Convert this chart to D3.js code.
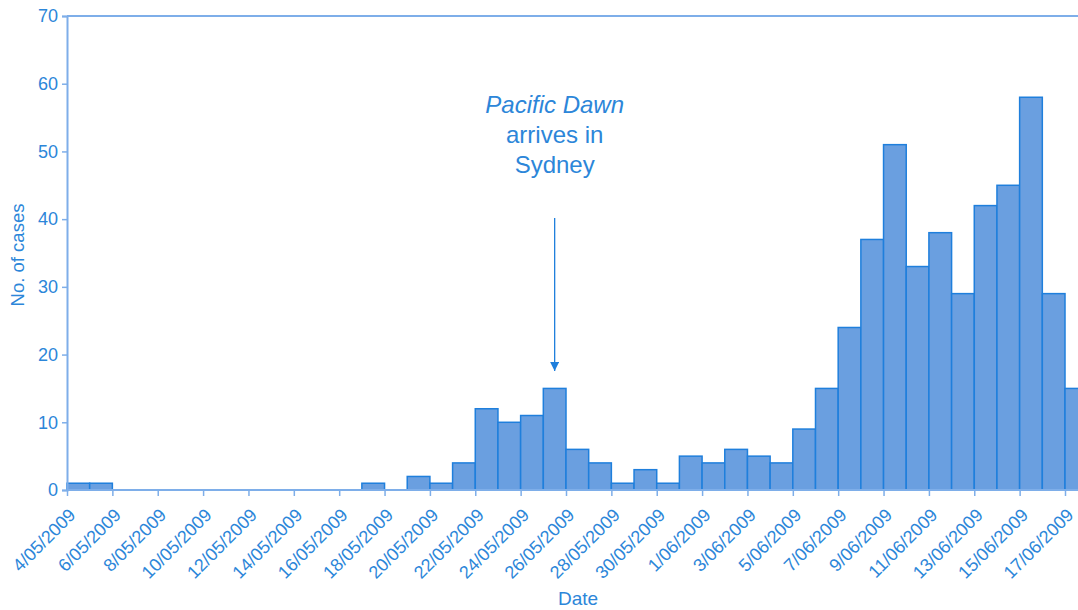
<!DOCTYPE html>
<html>
<head>
<meta charset="utf-8">
<script src="https://cdn.jsdelivr.net/npm/d3@7"></script>
<style>
  body { margin: 0; background: #fff; }
  svg { display: block; font-family: "Liberation Sans", Arial, sans-serif; }
</style>
</head>
<body>
<div id="chart"></div>
<script>
// one entry per day, 4 May to 17 June 2009
var startDate = "2009-05-04";
var cases = [1, 1, 0, 0, 0, 0, 0, 0, 0, 0, 0, 0, 0, 1, 0, 2, 1, 4, 12, 10,
             11, 15, 6, 4, 1, 3, 1, 5, 4, 6, 5, 4, 9, 15, 24, 37, 51, 33, 38, 29,
             42, 45, 58, 29, 15];
var yTicks = [0, 10, 20, 30, 40, 50, 60, 70];
var arrivalDate = "2009-05-25";
var annotation = ["Pacific Dawn", "arrives in", "Sydney"];

var textColor = "#2c86d9";
var axisColor = "#7eaee9";

var width = 1078, height = 610;
var margin = {top: 16, right: 0, bottom: 120, left: 67};

var parseDate = d3.timeParse("%Y-%m-%d");
var fmt = d3.timeFormat("%-d/%m/%Y");
var start = parseDate(startDate);

var data = cases.map(function(d, i) {
    return {date: d3.timeDay.offset(start, i), value: d};
});

var svg = d3.select("#chart").append("svg")
    .attr("width", width)
    .attr("height", height);

var x = d3.scaleTime()
    .domain([start, d3.timeDay.offset(start, 44)])
    .range([margin.left, 1065]);

var y = d3.scaleLinear()
    .domain([0, 70])
    .range([height - margin.bottom, margin.top]);

// bars
svg.append("g").selectAll("rect")
    .data(data.filter(function(d) { return d.value > 0; }))
    .enter().append("rect")
    .attr("x", function(d) { return x(d.date); })
    .attr("y", function(d) { return y(d.value); })
    .attr("width", function(d) { return x(d3.timeDay.offset(d.date, 1)) - x(d.date); })
    .attr("height", function(d) { return y(0) - y(d.value); })
    .attr("fill", "#6a9fe0")
    .attr("stroke", "#1f7fdc")
    .attr("stroke-width", 1.5);

// top frame line
svg.append("line")
    .attr("x1", margin.left).attr("x2", width)
    .attr("y1", y(70)).attr("y2", y(70))
    .attr("stroke", axisColor).attr("stroke-width", 2);

// y axis
var yAxis = svg.append("g")
    .attr("transform", "translate(" + margin.left + ",0)")
    .call(d3.axisLeft(y).tickValues(yTicks).tickSize(5).tickPadding(4));
yAxis.select(".domain").attr("stroke", axisColor).attr("stroke-width", 2);
yAxis.selectAll(".tick line").attr("stroke", axisColor).attr("stroke-width", 1.5);
yAxis.selectAll(".tick text")
    .attr("fill", textColor)
    .style("font-size", "18px");

// x axis, tick every second day
var xAxis = svg.append("g")
    .attr("transform", "translate(0," + y(0) + ")")
    .call(d3.axisBottom(x)
        .tickValues(d3.range(0, 45, 2).map(function(i) { return d3.timeDay.offset(start, i); }))
        .tickFormat(fmt)
        .tickSize(6));
xAxis.select(".domain").attr("stroke", axisColor).attr("stroke-width", 2)
    .attr("d", "M" + margin.left + ",0H" + width);
xAxis.selectAll(".tick line").attr("stroke", axisColor).attr("stroke-width", 1.5);
xAxis.selectAll(".tick text")
    .attr("fill", textColor)
    .style("font-size", "18px")
    .attr("text-anchor", "end")
    .attr("x", -12)
    .attr("y", 25)
    .attr("dx", 0)
    .attr("dy", 0)
    .attr("transform", "rotate(-45)");

// axis titles
svg.append("text")
    .attr("transform", "translate(24,255) rotate(-90)")
    .attr("text-anchor", "middle")
    .attr("fill", textColor)
    .style("font-size", "18.5px")
    .text("No. of cases");

svg.append("text")
    .attr("x", 578)
    .attr("y", 605)
    .attr("text-anchor", "middle")
    .attr("fill", textColor)
    .style("font-size", "19px")
    .text("Date");

// annotation arrow
var arrX = x(d3.timeHour.offset(parseDate(arrivalDate), 12));
svg.append("defs").append("marker")
    .attr("id", "arrowhead")
    .attr("viewBox", "0 0 10 10")
    .attr("refX", 10).attr("refY", 5)
    .attr("markerWidth", 7).attr("markerHeight", 7)
    .attr("orient", "auto")
    .append("path")
    .attr("d", "M0,0L10,5L0,10Z")
    .attr("fill", "#1f7fdc");

svg.append("line")
    .attr("x1", arrX).attr("x2", arrX)
    .attr("y1", 218).attr("y2", 371)
    .attr("stroke", "#1f7fdc")
    .attr("stroke-width", 1.3)
    .attr("marker-end", "url(#arrowhead)");

svg.append("g").selectAll("text")
    .data(annotation)
    .enter().append("text")
    .attr("x", arrX)
    .attr("y", function(d, i) { return 113 + i * 30; })
    .attr("text-anchor", "middle")
    .attr("fill", textColor)
    .style("font-size", "24px")
    .style("font-style", function(d, i) { return i == 0 ? "italic" : "normal"; })
    .text(function(d) { return d; });
</script>
</body>
</html>
